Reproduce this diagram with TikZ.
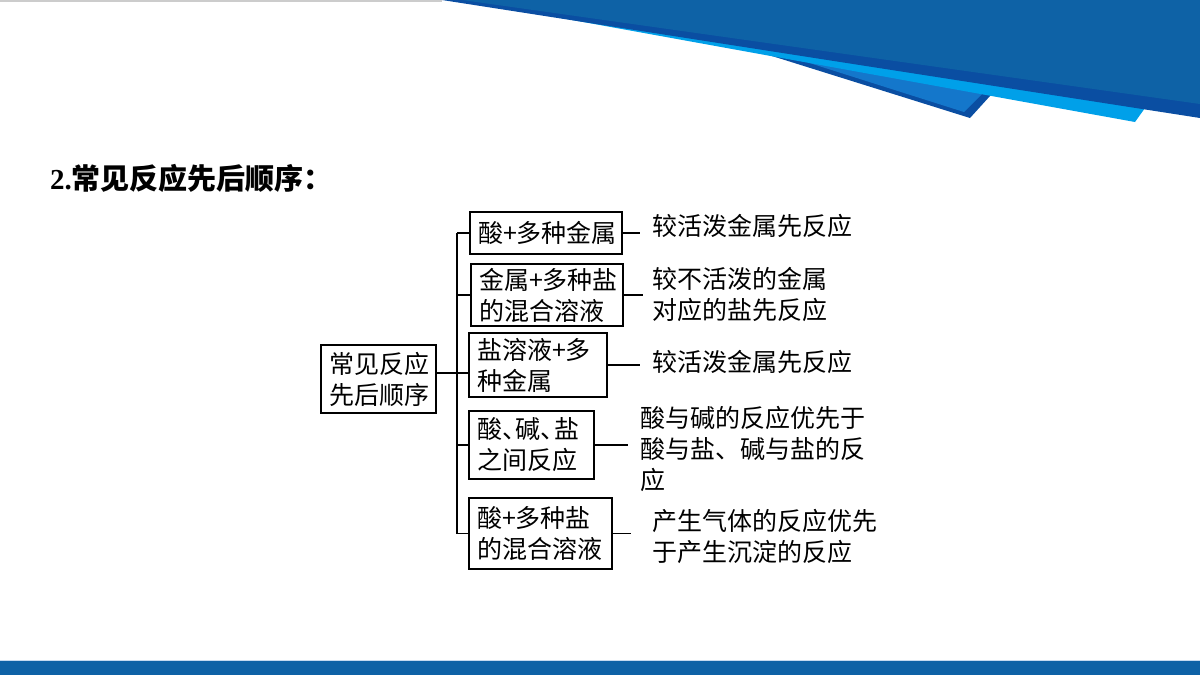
\documentclass[tikz,border=0pt]{standalone}
\usepackage{fontspec}
\setmainfont{Liberation Serif}
\newfontfamily\cjk{Noto Sans CJK SC}
\definecolor{mainblue}{HTML}{0E62A6}
\definecolor{navy}{HTML}{0A4EA2}
\definecolor{midblue}{HTML}{1477CB}
\definecolor{lightblue}{HTML}{00A0E9}
\definecolor{topgray}{HTML}{CCCCCC}
\definecolor{barline}{HTML}{C4DAF0}
\tikzset{
  box/.style={draw, line width=1.6pt, inner xsep=8pt, inner ysep=0pt, align=left,
    font=\cjk\fontsize{25}{31}\selectfont},
  note/.style={inner sep=0pt, align=left, anchor=west,
    font=\cjk\fontsize{25}{31}\selectfont},
  link/.style={line width=1.6pt},
  titlestyle/.style={anchor=west, inner sep=0pt, font=\fontsize{29}{31}\selectfont\bfseries}
}
\newcommand{\dun}{\makebox[0.55em][l]{、}}
\begin{document}
\begin{tikzpicture}[x=1pt,y=-1pt]
\useasboundingbox (0,0) rectangle (1200,675);
\fill[white] (0,0) rectangle (1200,675);
% top decoration
\fill[topgray] (0,0) rectangle (442,1.5);
\fill[navy] (740,46) -- (970,118) -- (990,96) -- (990,60) -- cycle;
\fill[midblue] (740,41) -- (964,112) -- (983,93) -- (983,60) -- cycle;
\fill[lightblue] (550,16) -- (1135,122) -- (1145,108) -- (1145,80) -- cycle;
\fill[navy] (442,0) -- (1200,0) -- (1200,118) -- cycle;
\fill[mainblue] (462,0) -- (1200,0) -- (1200,104) -- cycle;
% bottom bar
\fill[barline] (0,659.5) rectangle (1200,661.5);
\fill[mainblue] (0,661) rectangle (1200,675);
% title
\node[titlestyle] (title) at (50,178) {2.{\cjk 常见反应先后顺序\makebox[1em][c]{：}}};
% boxes
\node[box, text width=99pt, minimum height=68pt] (root) at (378.5,379) {常见反应\\先后顺序};
\node[box, text width=136pt, minimum height=42pt] (b1) at (546,233) {酸+多种金属};
\node[box, text width=136pt, minimum height=62pt] (b2) at (547,295) {金属+多种盐\\的混合溶液};
\node[box, text width=122pt, minimum height=64pt] (b3) at (538,365) {盐溶液+多\\种金属};
\node[box, text width=109pt, minimum height=68pt] (b4) at (531.5,445) {酸\dun 碱\dun 盐\\之间反应};
\node[box, text width=127pt, minimum height=71pt] (b5) at (540.5,533.5) {酸+多种盐\\的混合溶液};
% notes
\node[note] (t1) at (652,226) {较活泼金属先反应};
\node[note] (t2) at (652,294.5) {较不活泼的金属\\对应的盐先反应};
\node[note] (t3) at (652,362) {较活泼金属先反应};
\node[note] (t4) at (640,449) {酸与碱的反应优先于\\酸与盐、碱与盐的反\\应};
\node[note] (t5) at (652,536) {产生气体的反应优先\\于产生沉淀的反应};
% tree
\coordinate (trunk) at (457,373);
\draw[link] (trunk |- b1.west) -- (trunk |- b5.west);
\foreach \b in {b1,b2,b4,b5} \draw[link] (trunk |- \b.west) -- (\b.west);
\draw[link] (root.east |- trunk) -- (b3.west |- trunk);
% right connectors
\draw[link] (b1.east) -- ([xshift=-12pt]b1.east -| t1.west);
\draw[link] (b2.east) -- ([xshift=-9pt]b2.east -| t2.west);
\draw[link] (b3.east) -- ([xshift=-12pt]b3.east -| t3.west);
\draw[link] (b4.east) -- ([xshift=-12pt]b4.east -| t4.west);
\draw[link] (b5.east) -- ([xshift=-21pt]b5.east -| t5.west);
\end{tikzpicture}
\end{document}
